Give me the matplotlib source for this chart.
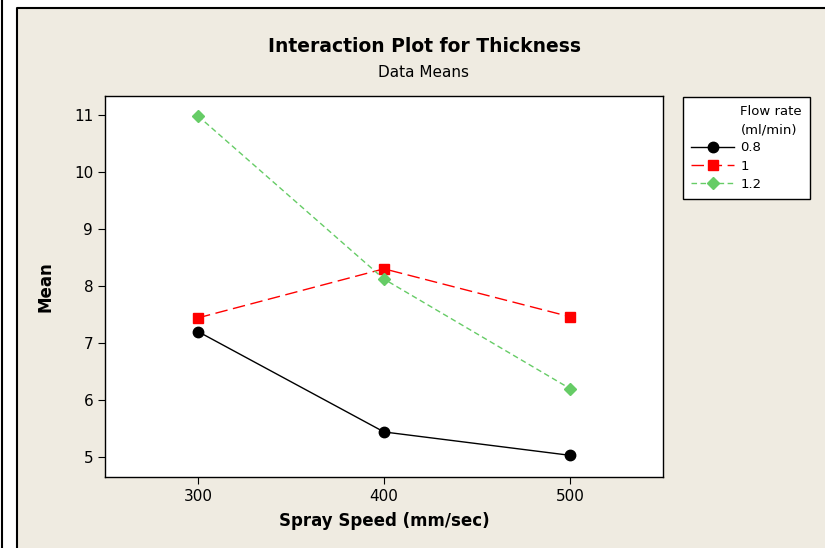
import matplotlib.pyplot as plt
from matplotlib.patches import Rectangle
from matplotlib.lines import Line2D

speed = [300, 400, 500]
flow_rates = ['0.8', '1', '1.2']
means = {
    '0.8': [7.20, 5.44, 5.03],
    '1': [7.44, 8.30, 7.46],
    '1.2': [10.98, 8.12, 6.20],
}
styles = {
    '0.8': dict(color='black', marker='o', linestyle='-', ms=7.5),
    '1': dict(color='#ff0000', marker='s', linestyle=(0, (9, 4)), ms=6.5),
    '1.2': dict(color='#66cc66', marker='D', linestyle=(0, (4, 2.5)), ms=6.5),
}

bg = '#efebe1'
fig = plt.figure(figsize=(8.25, 5.48), dpi=100, facecolor='white')
fig.add_artist(Rectangle((17/825, 0), 1, 1 - 8/548, transform=fig.transFigure,
                         facecolor=bg, edgecolor='none', zorder=-10))
fig.add_artist(Line2D([17/825, 17/825, 1], [0, 1 - 8/548, 1 - 8/548],
                      transform=fig.transFigure, color='black', lw=1.5))
fig.add_artist(Line2D([1.5/825, 1.5/825], [0, 1], transform=fig.transFigure,
                      color='black', lw=1.5))

ax = fig.add_axes([105/825, 1 - 477/548, 558/825, 381/548])
ax.set_facecolor('white')
handles, labels = [], []
for fr in flow_rates:
    st = styles[fr]
    ln, = ax.plot(speed, means[fr], color=st['color'], marker=st['marker'],
                  linestyle=st['linestyle'], markersize=st['ms'], lw=1, label=fr)
    handles.append(ln)
    labels.append(fr)

ax.set_xlim(250, 550)
ax.set_ylim(4.65, 11.33)
ax.set_xticks(speed)
ax.set_yticks(range(5, 12))
ax.tick_params(direction='out', length=5, labelsize=11, color='black')
for s in ax.spines.values():
    s.set_linewidth(1)
ax.set_xlabel('Spray Speed (mm/sec)', fontsize=12, fontweight='bold', labelpad=6)
ax.set_ylabel('Mean', fontsize=12, fontweight='bold', labelpad=14)

fig.text(424/825, 1 - 47/548, 'Interaction Plot for Thickness', ha='center',
         va='center', fontsize=13.5, fontweight='bold')
fig.text(424/825, 1 - 72/548, 'Data Means', ha='center', va='center', fontsize=11)

# legend title lines sit in the label column, like the original
blank = Line2D([], [], color='none')
leg = fig.legend([blank, blank] + handles, ['Flow rate', '(ml/min)'] + labels,
                 loc='upper left', bbox_to_anchor=(683/825, 1 - 97/548),
                 fontsize=9.5, frameon=True, fancybox=False,
                 edgecolor='black', facecolor='white', framealpha=1,
                 handlelength=3.3, handletextpad=0.45,
                 borderpad=0.6, borderaxespad=0, labelspacing=0.4)
leg.get_frame().set_linewidth(1)

fig.savefig('out.png', dpi=100, facecolor='white')
